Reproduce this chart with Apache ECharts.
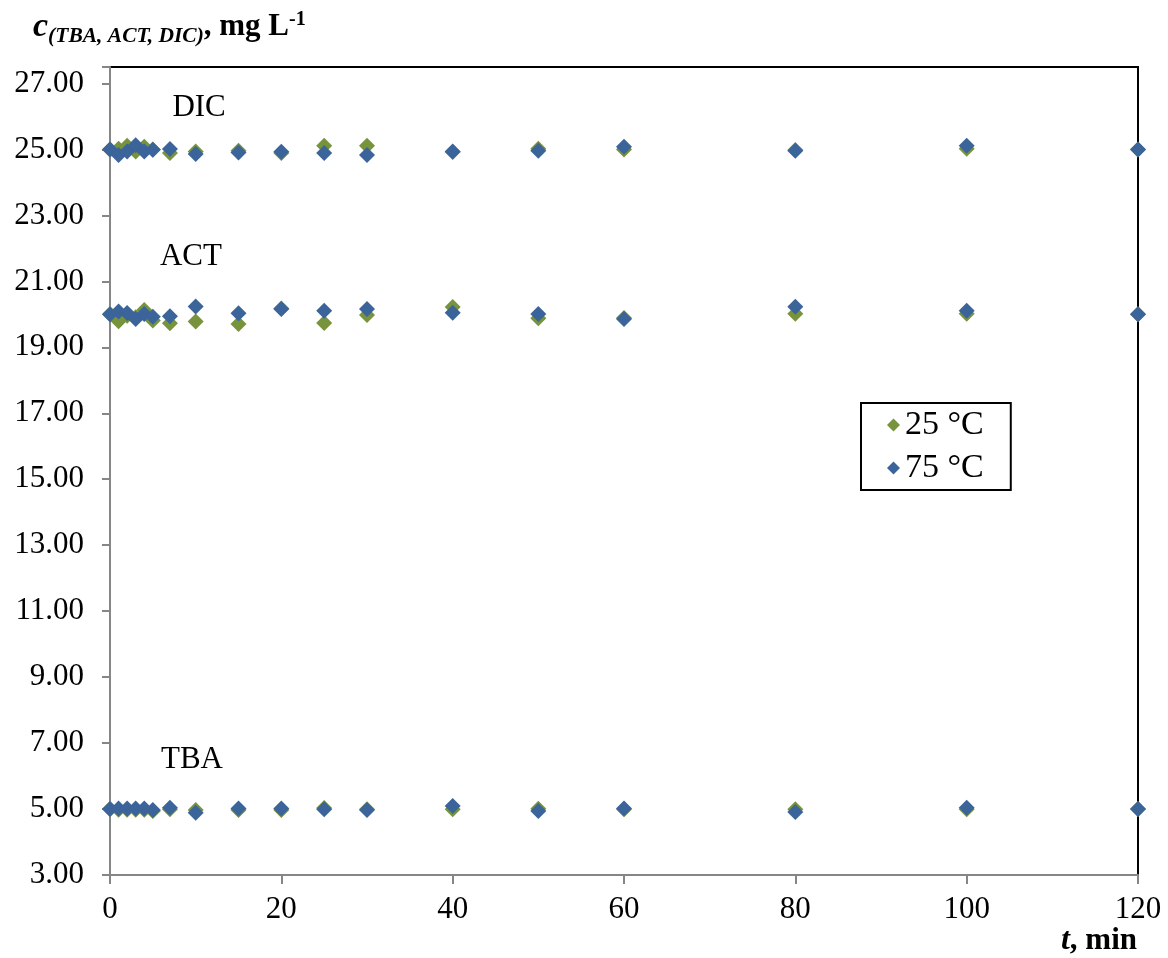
<!DOCTYPE html>
<html>
<head>
<meta charset="utf-8">
<script src="https://cdn.jsdelivr.net/npm/echarts@6/dist/echarts.min.js"></script>
<style>html,body{margin:0;padding:0;background:#fff}#c{width:1168px;height:958px}</style>
</head>
<body>
<div id="c"></div>
<script>
var time   = [0, 1, 2, 3, 4, 5, 7, 10, 15, 20, 25, 30, 40, 50, 60, 80, 100, 120];
var dic25  = [25.00, 25.02, 25.11, 24.94, 25.08, 25.00, 24.89, 24.94, 24.96, 24.89, 25.11, 25.11, 24.92, 25.02, 25.00, 24.98, 25.02, 25.00];
var dic75  = [25.00, 24.83, 24.94, 25.13, 24.94, 24.99, 25.01, 24.86, 24.91, 24.93, 24.89, 24.83, 24.94, 24.96, 25.08, 24.96, 25.11, 25.00];
var act25  = [20.00, 19.79, 19.96, 19.91, 20.13, 19.81, 19.73, 19.78, 19.71, 20.18, 19.74, 19.98, 20.22, 19.88, 19.89, 20.02, 20.02, 20.00];
var act75  = [20.00, 20.09, 20.04, 19.86, 20.01, 19.93, 19.94, 20.24, 20.03, 20.16, 20.11, 20.16, 20.05, 20.01, 19.86, 20.23, 20.11, 20.00];
var tba25  = [5.00, 4.98, 4.98, 4.98, 4.98, 4.94, 4.99, 4.97, 4.97, 4.97, 5.03, 4.99, 4.99, 5.01, 4.99, 4.99, 4.99, 5.00];
var tba75  = [5.00, 5.02, 5.02, 5.02, 5.02, 4.97, 5.04, 4.89, 5.02, 5.02, 4.99, 4.97, 5.09, 4.94, 5.02, 4.91, 5.04, 5.00];
var seriesNames = ['25 °C', '75 °C'];
var labelNames = ['DIC', 'ACT', 'TBA'];
var labelX = [10.4, 9.45, 9.57];
var labelY = [26.27, 21.75, 6.48];
var xTicks = {min: 0, max: 120, interval: 20};
var yTicks = {min: 3, max: 27.5, interval: 2, lastLabel: 27};

var GREEN = '#77933C', BLUE = '#3B649A';
var FONT = 'Liberation Serif';

function pairs(v) { return time.map(function (t, i) { return [t, v[i]]; }); }
function sc(name, color, vals) {
  return {
    type: 'scatter', name: name, data: pairs(vals),
    symbol: 'diamond', symbolSize: 16,
    itemStyle: {color: color, opacity: 1},
    emphasis: {disabled: true}
  };
}

var series = [
  sc(seriesNames[0], GREEN, dic25), sc(seriesNames[0], GREEN, act25), sc(seriesNames[0], GREEN, tba25),
  sc(seriesNames[1], BLUE, dic75), sc(seriesNames[1], BLUE, act75), sc(seriesNames[1], BLUE, tba75),
  {
    type: 'scatter', name: 'labels', symbolSize: 1, silent: true,
    itemStyle: {color: 'rgba(0,0,0,0)'},
    data: labelNames.map(function (n, i) { return {value: [labelX[i], labelY[i]], name: n}; }),
    label: {show: true, position: 'inside', formatter: '{b}', fontFamily: FONT, fontSize: 31,
            color: '#000', textBorderWidth: 0, textShadowBlur: 0, opacity: 1}
  }
];

var chart = echarts.init(document.getElementById('c'), null, {renderer: 'canvas'});
chart.setOption({
  animation: false,
  backgroundColor: '#fff',
  title: [
    {
      text: '{c|c}{s|(TBA, ACT, DIC)}{m|, mg L}{p|-1}',
      left: 33, top: 7, padding: 0,
      textStyle: {
        rich: {
          c: {fontFamily: FONT, fontStyle: 'italic', fontWeight: 'bold', fontSize: 34, lineHeight: 40, color: '#000'},
          s: {fontFamily: FONT, fontStyle: 'italic', fontWeight: 'bold', fontSize: 21.5, lineHeight: 21, verticalAlign: 'bottom', color: '#000'},
          m: {fontFamily: FONT, fontWeight: 'bold', fontSize: 31, lineHeight: 40, color: '#000'},
          p: {fontFamily: FONT, fontWeight: 'bold', fontSize: 20, lineHeight: 20, verticalAlign: 'top', padding: [3, 0, 0, 0], color: '#000'}
        }
      }
    },
    {
      text: '{t|t}{n|, min}',
      right: 31, top: 925, padding: 0,
      textStyle: {
        rich: {
          t: {fontFamily: FONT, fontStyle: 'italic', fontWeight: 'bold', fontSize: 32, lineHeight: 32, color: '#000'},
          n: {fontFamily: FONT, fontWeight: 'bold', fontSize: 31, lineHeight: 32, color: '#000'}
        }
      }
    }
  ],
  legend: {
    data: seriesNames,
    orient: 'vertical',
    left: 861, top: 403,
    padding: [5, 27, 5, 26],
    itemGap: 9, itemWidth: 13, itemHeight: 13, itemTextGap: 6,
    icon: 'diamond',
    backgroundColor: '#fff', borderColor: '#000', borderWidth: 2, borderRadius: 0,
    textStyle: {fontFamily: FONT, fontSize: 34, lineHeight: 32, color: '#000'},
    selectedMode: false
  },
  grid: {
    left: 110, right: 30, top: 67, bottom: 83,
    show: true, borderColor: '#000', borderWidth: 2, backgroundColor: '#fff'
  },
  xAxis: {
    type: 'value', min: xTicks.min, max: xTicks.max, interval: xTicks.interval,
    axisLine: {show: true, onZero: false, lineStyle: {color: '#868686', width: 2}},
    axisTick: {show: true, inside: false, length: 9, lineStyle: {color: '#868686', width: 2}},
    splitLine: {show: false},
    axisLabel: {fontFamily: FONT, fontSize: 31, color: '#000', margin: 19}
  },
  yAxis: {
    type: 'value', min: yTicks.min, max: yTicks.max, interval: yTicks.interval,
    axisLine: {show: true, onZero: false, lineStyle: {color: '#868686', width: 2}},
    axisTick: {show: true, inside: false, length: 8, lineStyle: {color: '#868686', width: 2}},
    splitLine: {show: false},
    axisLabel: {
      fontFamily: FONT, fontSize: 31, color: '#000', margin: 26,
      formatter: function (v) { return v > yTicks.lastLabel + 0.01 ? '' : v.toFixed(2); }
    }
  },
  series: series
});
</script>
</body>
</html>
